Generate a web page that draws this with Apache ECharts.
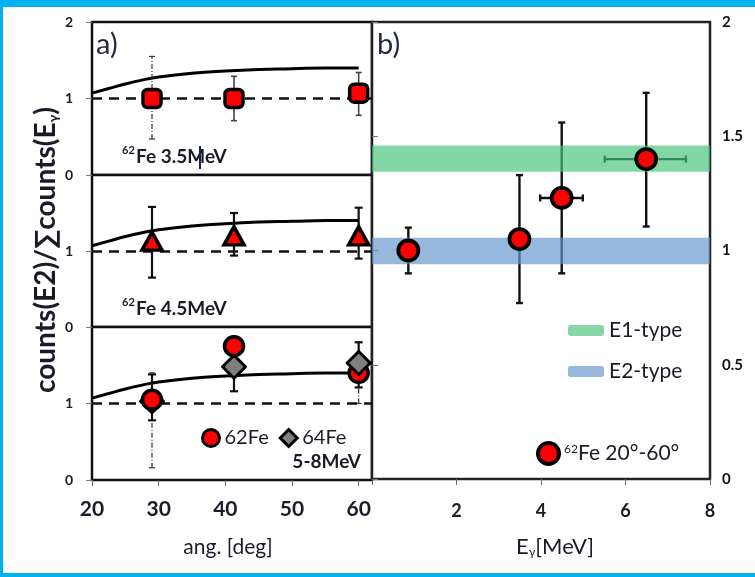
<!DOCTYPE html>
<html>
<head>
<meta charset="utf-8">
<script src="https://cdn.jsdelivr.net/npm/echarts@6/dist/echarts.min.js"></script>
<style>
  html, body { margin: 0; padding: 0; background: #fff; }
  #chart { width: 755px; height: 577px; }
</style>
</head>
<body>
<div id="chart"></div>
<script>
// ---- panel a): angular ratio at three gamma energies ----
const ang = [29, 41.3, 60];

const r35 = [1.00, 1.00, 1.07];
const r35Lo = [0.47, 0.71, 0.78];
const r35Hi = [1.55, 1.29, 1.34];

const r45 = [1.13, 1.20, 1.20];
const r45Lo = [0.65, 0.94, 0.90];
const r45Hi = [1.58, 1.50, 1.57];

const r62 = [1.05, 1.75, 1.40];
const r62Lo = [0.16, 1.62, 1.00];
const r62Hi = [1.40, 1.88, 1.80];

const r64 = [1.03, 1.48, 1.53];
const r64Lo = [0.78, 1.16, 1.21];
const r64Hi = [1.38, 1.75, 1.80];

// expected E2 angular distribution
const curveAng = [20, 22.5, 25, 27.5, 30, 35, 40, 45, 50, 55, 60];
const curveW = [1.07, 1.13, 1.19, 1.24, 1.28, 1.33, 1.36, 1.38, 1.39, 1.40, 1.40];

const angTicks = [20, 30, 40, 50, 60];

// ---- panel b): ratio versus gamma energy ----
const eGamma = [0.86, 3.49, 4.49, 6.49];
const eRatio = [1.00, 1.05, 1.23, 1.40];
const eRatioLo = [0.90, 0.77, 0.90, 1.105];
const eRatioHi = [1.10, 1.33, 1.56, 1.69];
const eGammaLo = [null, null, 3.98, 5.51];
const eGammaHi = [null, null, 4.99, 7.43];

const e1Band = [1.345, 1.46];
const e2Band = [0.94, 1.056];

const eTicks = [0, 2, 4, 6, 8];

// ---- helpers ----
const ink = '#1b1b28';
const font = 'Lato';

function zip(a, b) { return a.map((v, i) => [v, b[i]]); }
function zip3(a, b, c) { return a.map((v, i) => [v, b[i], c[i]]); }

// vertical error bars: item = [x, lo, hi]
function vBars(styleFor, cap) {
  return function (params, api) {
    const x = api.value(0);
    const a = api.coord([x, api.value(1)]);
    const b = api.coord([x, api.value(2)]);
    const st = styleFor(params.dataIndex);
    const capSt = Object.assign({}, st, { lineDash: null });
    const h = cap / 2;
    return {
      type: 'group',
      children: [
        { type: 'line', shape: { x1: a[0], y1: a[1], x2: b[0], y2: b[1] }, style: st },
        { type: 'line', shape: { x1: a[0] - h, y1: a[1], x2: a[0] + h, y2: a[1] }, style: capSt },
        { type: 'line', shape: { x1: b[0] - h, y1: b[1], x2: b[0] + h, y2: b[1] }, style: capSt }
      ]
    };
  };
}

// horizontal error bars: item = [y, lo, hi]
function hBars(style, cap) {
  return function (params, api) {
    const y = api.value(0);
    const a = api.coord([api.value(1), y]);
    const b = api.coord([api.value(2), y]);
    const h = cap / 2;
    return {
      type: 'group',
      children: [
        { type: 'line', shape: { x1: a[0], y1: a[1], x2: b[0], y2: b[1] }, style: style },
        { type: 'line', shape: { x1: a[0], y1: a[1] - h, x2: a[0], y2: a[1] + h }, style: style },
        { type: 'line', shape: { x1: b[0], y1: b[1] - h, x2: b[0], y2: b[1] + h }, style: style }
      ]
    };
  };
}

// full-width horizontal band: item = [lo, hi]
function band(fill) {
  return function (params, api) {
    const cs = params.coordSys;
    const yLo = api.coord([0, api.value(0)])[1];
    const yHi = api.coord([0, api.value(1)])[1];
    return {
      type: 'rect',
      shape: { x: cs.x, y: yHi, width: cs.width, height: yLo - yHi },
      style: { fill: fill }
    };
  };
}

const thinDash = { stroke: '#333', lineWidth: 1.2, lineDash: [5, 2, 1, 2] };
const thinSolid = { stroke: '#444', lineWidth: 1.6 };
const solid = { stroke: '#111', lineWidth: 2.2 };

function curveSeries(i) {
  return {
    type: 'line', xAxisIndex: i, yAxisIndex: i, z: 3,
    data: zip(curveAng, curveW), smooth: true, showSymbol: false, silent: true,
    lineStyle: { color: '#000', width: 3 },
    markLine: {
      silent: true, symbol: 'none', label: { show: false },
      lineStyle: { color: '#111', width: 2.5, type: [10, 7] },
      data: [{ yAxis: 1 }]
    }
  };
}

function leftX(i, showLabels) {
  return {
    type: 'value', gridIndex: i, min: 20, max: 62, interval: 10,
    axisLine: { show: false }, splitLine: { show: false },
    axisTick: { show: showLabels, length: 6, lineStyle: { color: '#666' } },
    axisLabel: {
      show: showLabels, margin: 19, showMaxLabel: false,
      fontFamily: font, fontWeight: 'bold', fontSize: 21, color: ink,
      formatter: v => (angTicks.indexOf(v) >= 0 ? String(v) : '')
    }
  };
}

function leftY(i, showTop) {
  return {
    type: 'value', gridIndex: i, min: 0, max: 2, interval: 1,
    axisLine: { show: false }, splitLine: { show: false },
    axisTick: { show: true, length: 6, lineStyle: { color: '#777' } },
    axisLabel: {
      margin: 19, fontFamily: font, fontWeight: 'bold', fontSize: 14, color: ink,
      formatter: v => (v === 2 && !showTop ? '' : String(v))
    }
  };
}

// markers of the 5-8 MeV panel: the higher point is drawn on top
function circleMarks(params, api) {
  const i = params.dataIndex;
  const p = api.coord([api.value(0), api.value(1)]);
  return {
    type: 'circle', z2: r62[i] >= r64[i] ? 20 : 10,
    shape: { cx: p[0], cy: p[1], r: 9.5 },
    style: { fill: '#ff0000', stroke: '#000', lineWidth: 3.5 }
  };
}
function diamondMarks(params, api) {
  const i = params.dataIndex;
  const p = api.coord([api.value(0), api.value(1)]);
  const s = 11.5;
  return {
    type: 'polygon', z2: r64[i] > r62[i] ? 20 : 10,
    shape: { points: [[p[0], p[1] - s], [p[0] + s, p[1]], [p[0], p[1] + s], [p[0] - s, p[1]]] },
    style: { fill: '#7f7f7f', stroke: '#000', lineWidth: 3, lineJoin: 'round' }
  };
}

// isotope label with raised mass number
function isoLabel(x, y, rest) {
  return [
    { type: 'text', silent: true, x: x, y: y, z: 50, style: { text: '62', font: 'bold 11px Lato', fill: ink } },
    { type: 'text', silent: true, x: x + 14, y: y + 2, z: 50, style: { text: rest, font: 'bold 19px Lato', fill: ink } }
  ];
}

const redMark = { color: '#ff0000', borderColor: '#000', borderWidth: 3.5, opacity: 1 };

const option = {
  animation: false,
  backgroundColor: '#ffffff',
  textStyle: { fontFamily: font },
  grid: [
    { left: 92, top: 22, width: 280, height: 153, show: true, borderColor: '#111', borderWidth: 2.5, backgroundColor: '#fff' },
    { left: 92, top: 175, width: 280, height: 152, show: true, borderColor: '#111', borderWidth: 2.5, backgroundColor: '#fff' },
    { left: 92, top: 327, width: 280, height: 153, show: true, borderColor: '#111', borderWidth: 2.5, backgroundColor: '#fff' },
    { left: 372, top: 22, width: 338, height: 457, show: true, borderColor: '#222', borderWidth: 2.5, backgroundColor: '#fff' }
  ],
  xAxis: [
    leftX(0, false), leftX(1, false), leftX(2, true),
    {
      type: 'value', gridIndex: 3, min: 0, max: 8, interval: 2,
      axisLine: { show: false }, splitLine: { show: false },
      axisTick: { length: 6, lineStyle: { color: '#666' } },
      axisLabel: {
        margin: 23, fontFamily: font, fontWeight: 'bold', fontSize: 18, color: ink,
        formatter: v => (eTicks.indexOf(v) > 0 ? String(v) : '')
      }
    }
  ],
  yAxis: [
    leftY(0, true), leftY(1, false), leftY(2, false),
    {
      type: 'value', gridIndex: 3, position: 'right', min: 0, max: 2, interval: 0.5,
      axisLine: { show: false }, splitLine: { show: false },
      axisTick: { length: 6, lineStyle: { color: '#777' } },
      axisLabel: { margin: 12, fontFamily: font, fontWeight: 'bold', fontSize: 15, color: '#111' }
    }
  ],
  legend: [
    {
      selectedMode: false, left: 196, top: 423, itemWidth: 17, itemHeight: 17, itemGap: 10,
      textStyle: { fontFamily: font, fontSize: 20, color: ink },
      data: [
        { name: '62Fe', icon: 'circle', itemStyle: { color: '#ff0000', borderColor: '#000', borderWidth: 3 } },
        { name: '64Fe', icon: 'diamond', itemStyle: { color: '#7f7f7f', borderColor: '#000', borderWidth: 3 } }
      ]
    },
    {
      selectedMode: false, orient: 'vertical', left: 563, top: 315, itemWidth: 36, itemHeight: 11, itemGap: 20,
      textStyle: { fontFamily: font, fontSize: 21, color: ink },
      data: [
        { name: 'E1-type', icon: 'roundRect', itemStyle: { color: '#86d6a7' } },
        { name: 'E2-type', icon: 'roundRect', itemStyle: { color: '#97b8dc' } }
      ]
    },
    {
      selectedMode: false, left: 531, top: 436, itemWidth: 21, itemHeight: 21,
      data: [{ name: '62Fe 20°-60°', icon: 'circle', itemStyle: { color: '#ff0000', borderColor: '#000', borderWidth: 4 } }],
      formatter: () => '{s|62}{t|Fe 20°-60°}',
      textStyle: {
        fontFamily: font, fontSize: 20, color: ink,
        rich: {
          s: { fontFamily: font, fontSize: 12, verticalAlign: 'top', color: ink, padding: [0, 0, 4, 0] },
          t: { fontFamily: font, fontSize: 21, color: ink }
        }
      }
    }
  ],
  graphic: [
    { type: 'rect', silent: true, shape: { x: 0, y: 0, width: 755, height: 7 }, style: { fill: '#00b0f0' } },
    { type: 'rect', silent: true, shape: { x: 0, y: 0, width: 3, height: 577 }, style: { fill: '#00b0f0' } },
    { type: 'rect', silent: true, shape: { x: 0, y: 573, width: 755, height: 4 }, style: { fill: '#00b0f0' } },
    { type: 'text', silent: true, x: 96, y: 30, z: 50, style: { text: 'a)', font: '29px Lato', fill: '#252a42' } },
    { type: 'text', silent: true, x: 377, y: 30, z: 50, style: { text: 'b)', font: '29px Lato', fill: '#252a42' } },
    ...isoLabel(122, 145, 'Fe 3.5MeV'),
    { type: 'line', silent: true, z: 50, shape: { x1: 200, y1: 146, x2: 200, y2: 169 }, style: { stroke: '#1b2240', lineWidth: 2 } },
    ...isoLabel(122, 297, 'Fe 4.5MeV'),
    { type: 'text', silent: true, x: 361, y: 452, z: 50, style: { text: '5-8MeV', align: 'right', font: 'bold 19px Lato', fill: ink } },
    {
      type: 'text', silent: true, x: 46, y: 250, rotation: Math.PI / 2, z: 50,
      style: {
        text: '{t|counts(E2)/∑counts(E}{g|γ}{t|)}', align: 'center', verticalAlign: 'middle',
        rich: {
          t: { fontFamily: font, fontWeight: 'bold', fontSize: 28, fill: ink },
          g: { fontFamily: font, fontWeight: 'bold', fontSize: 14, verticalAlign: 'bottom', fill: ink }
        }
      }
    },
    { type: 'text', silent: true, x: 228, y: 547, z: 50, style: { text: 'ang. [deg]', align: 'center', verticalAlign: 'middle', font: '21px Lato', fill: ink } },
    {
      type: 'text', silent: true, x: 555, y: 547, z: 50,
      style: {
        text: '{t|E}{g|γ}{t|[MeV]}', align: 'center', verticalAlign: 'middle',
        rich: {
          t: { fontFamily: font, fontSize: 22, fill: ink },
          g: { fontFamily: font, fontSize: 12, verticalAlign: 'bottom', fill: ink }
        }
      }
    }
  ],
  series: [
    // expected distribution + isotropic reference
    curveSeries(0), curveSeries(1), curveSeries(2),

    // 3.5 MeV
    {
      type: 'custom', name: 'err35', xAxisIndex: 0, yAxisIndex: 0, z: 4, silent: true,
      data: zip3(ang, r35Lo, r35Hi),
      renderItem: vBars(i => (i === 0 ? thinDash : thinSolid), 6)
    },
    {
      type: 'scatter', name: 'r35', xAxisIndex: 0, yAxisIndex: 0, z: 6, silent: true,
      data: zip(ang, r35), symbol: 'roundRect', symbolSize: 18,
      itemStyle: redMark
    },

    // 4.5 MeV
    {
      type: 'custom', name: 'err45', xAxisIndex: 1, yAxisIndex: 1, z: 4, silent: true,
      data: zip3(ang, r45Lo, r45Hi),
      renderItem: vBars(() => solid, 8)
    },
    {
      type: 'scatter', name: 'r45', xAxisIndex: 1, yAxisIndex: 1, z: 6, silent: true,
      data: zip(ang, r45), symbol: 'triangle', symbolSize: [20, 18],
      itemStyle: redMark
    },

    // 5-8 MeV
    {
      type: 'custom', name: 'err62', xAxisIndex: 2, yAxisIndex: 2, z: 4, silent: true,
      data: zip3(ang, r62Lo, r62Hi),
      renderItem: vBars(() => thinDash, 6)
    },
    {
      type: 'custom', name: 'err64', xAxisIndex: 2, yAxisIndex: 2, z: 4, silent: true,
      data: zip3(ang, r64Lo, r64Hi),
      renderItem: vBars(() => solid, 8)
    },
    {
      type: 'custom', name: '62Fe', xAxisIndex: 2, yAxisIndex: 2, z: 6, silent: true,
      itemStyle: { color: '#ff0000' },
      data: zip(ang, r62), renderItem: circleMarks
    },
    {
      type: 'custom', name: '64Fe', xAxisIndex: 2, yAxisIndex: 2, z: 6, silent: true,
      itemStyle: { color: '#7f7f7f' },
      data: zip(ang, r64), renderItem: diamondMarks
    },

    // panel b)
    {
      type: 'custom', name: 'errE', xAxisIndex: 3, yAxisIndex: 3, z: 4, silent: true,
      data: zip3(eGamma, eRatioLo, eRatioHi),
      renderItem: vBars(() => ({ stroke: '#111', lineWidth: 2.4 }), 7)
    },
    {
      type: 'custom', name: 'errEx', xAxisIndex: 3, yAxisIndex: 3, z: 4, silent: true,
      data: zip3(eRatio, eGammaLo, eGammaHi).filter(d => d[1] != null),
      renderItem: hBars({ stroke: '#111', lineWidth: 2.4 }, 7)
    },
    {
      type: 'custom', name: 'E1-type', xAxisIndex: 3, yAxisIndex: 3, z: 5, silent: true,
      itemStyle: { color: '#86d6a7' },
      data: [e1Band], renderItem: band('rgba(72,196,125,0.68)')
    },
    {
      type: 'custom', name: 'E2-type', xAxisIndex: 3, yAxisIndex: 3, z: 5, silent: true,
      itemStyle: { color: '#97b8dc' },
      data: [e2Band], renderItem: band('rgba(100,150,205,0.68)')
    },
    {
      type: 'scatter', name: '62Fe 20°-60°', xAxisIndex: 3, yAxisIndex: 3, z: 7, silent: true,
      data: zip(eGamma, eRatio), symbol: 'circle', symbolSize: 20,
      itemStyle: { color: '#ff0000', borderColor: '#000', borderWidth: 3.8, opacity: 1 }
    }
  ]
};

const chart = echarts.init(document.getElementById('chart'), null, { renderer: 'canvas' });
chart.setOption(option);
</script>
</body>
</html>
